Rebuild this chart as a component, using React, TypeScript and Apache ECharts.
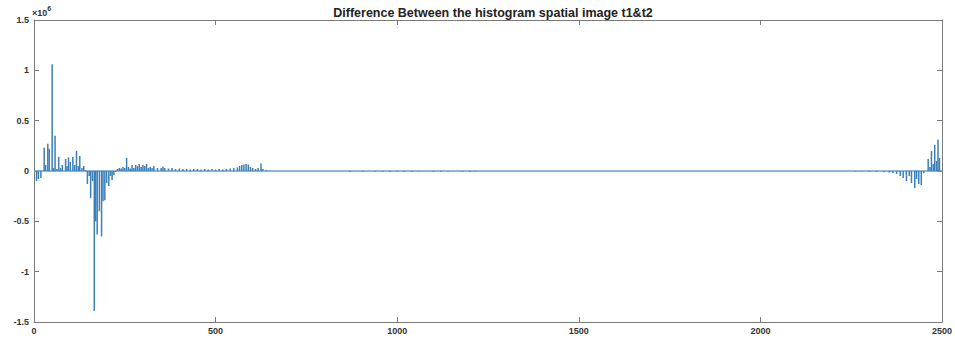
import React, { useEffect, useRef } from "react";
import * as echarts from "echarts";

// bin positions and histogram difference values (in units of 1e6)
const binsLeft = [7, 12, 19, 28, 32, 38, 42, 50, 54, 58, 63, 68, 73, 78, 87, 91, 95, 100, 107, 112, 117, 122, 126, 132, 137, 142,
  147, 152, 156, 161, 166, 170, 174, 180, 186, 190, 195, 200, 206, 211, 215, 220, 225,
  230, 235, 240, 245, 250, 255, 260, 265, 270, 275, 280, 285, 290, 295, 300, 305, 310, 315, 320, 325, 330, 340, 350, 355, 360, 370, 380,
  390, 400, 410, 420, 430, 440, 450, 460, 470, 480, 490, 500, 510, 520, 530, 540, 550, 560, 566, 572, 578, 584, 590, 596, 602, 610, 617, 625, 630, 640, 650];
const valuesLeft = [-0.1, -0.08, -0.07, 0.23, 0.06, 0.27, 0.22, 1.06, 0.03, 0.35, 0.02, 0.14, 0.03, 0.06, 0.12, 0.05, 0.135, 0.09, 0.14, 0.06, 0.2, 0.05, 0.15, 0.03, 0.05, 0.01,
  -0.13, -0.05, -0.27, -0.1, -1.39, -0.5, -0.63, -0.4, -0.65, -0.3, -0.29, -0.12, -0.15, -0.05, -0.09, -0.04, -0.01,
  0.02, 0.03, 0.025, 0.04, 0.03, 0.13, 0.04, 0.025, 0.06, 0.03, 0.06, 0.05, 0.07, 0.04, 0.06, 0.05, 0.07, 0.03, 0.04, 0.03, 0.05, 0.03, 0.03, 0.045, 0.03, 0.025, 0.03,
  0.02, 0.025, 0.02, 0.02, 0.015, 0.02, 0.02, 0.015, 0.02, 0.015, 0.02, 0.015, 0.02, 0.015, 0.02, 0.025, 0.03, 0.035, 0.05, 0.06, 0.065, 0.07, 0.065, 0.04, 0.03, 0.02, 0.03, 0.075, 0.02, 0.01, 0.005];

const binsMiddle = [870, 905, 940, 960, 980, 1000, 1020, 1040, 1060, 1100, 1120, 1140, 1180, 1200, 1215];
const valuesMiddle = [-0.01, -0.008, -0.008, -0.008, -0.01, -0.008, -0.01, -0.008, -0.006, -0.01, -0.008, -0.006, -0.008, -0.008, -0.006];

const binsRight = [2262, 2280, 2300, 2320, 2340, 2355, 2365, 2375, 2385, 2393, 2402, 2410, 2416, 2425, 2430, 2436, 2443, 2450,
  2462, 2467, 2471, 2476, 2480, 2485, 2489, 2493];
const valuesRight = [-0.005, -0.006, -0.008, -0.01, -0.012, -0.015, -0.02, -0.03, -0.05, -0.07, -0.1, -0.05, -0.12, -0.17, -0.08, -0.13, -0.14, -0.02,
  0.12, 0.04, 0.2, 0.07, 0.26, 0.1, 0.31, 0.13];

const xTicks = [0, 500, 1000, 1500, 2000, 2500];
const yTicks = [-1.5, -1, -0.5, 0, 0.5, 1, 1.5];

const titleText = "Difference Between the histogram spatial image t1&t2";

export default function App() {
  const ref = useRef<HTMLDivElement>(null);
  useEffect(() => {
    if (!ref.current) return;
    const chart = echarts.init(ref.current, undefined, { renderer: "svg" });
    const bins = [...binsLeft, ...binsMiddle, ...binsRight];
    const vals = [...valuesLeft, ...valuesMiddle, ...valuesRight];
    const barData = bins.map((b, i) => [b, vals[i]]);
    const axisColor = "#7a7a7a";
    const font = "Liberation Sans, Arial, sans-serif";
    const labelStyle = { color: "#333", fontSize: 9, fontWeight: "bold" as const, fontFamily: font };
    chart.setOption({
      animation: false,
      title: {
        text: titleText,
        left: 488,
        textAlign: "center",
        top: 1,
        textStyle: { fontSize: 12.5, fontWeight: "bold", color: "#222", fontFamily: font },
      },
      grid: { left: 34, right: 12, top: 20, bottom: 16 },
      xAxis: [
        {
          type: "value",
          min: xTicks[0],
          max: xTicks[xTicks.length - 1],
          interval: 500,
          position: "bottom",
          axisLine: { show: true, onZero: false, lineStyle: { color: axisColor, width: 1 } },
          axisTick: { show: true, inside: true, length: 5, lineStyle: { color: axisColor } },
          axisLabel: { ...labelStyle, margin: 4, formatter: (v: number) => String(v) },
          splitLine: { show: false },
        },
        {
          type: "value",
          min: xTicks[0],
          max: xTicks[xTicks.length - 1],
          interval: 500,
          position: "top",
          axisLine: { show: true, onZero: false, lineStyle: { color: axisColor, width: 1 } },
          axisTick: { show: true, inside: true, length: 5, lineStyle: { color: axisColor } },
          axisLabel: { show: false },
          splitLine: { show: false },
        },
      ],
      yAxis: [
        {
          type: "value",
          min: yTicks[0],
          max: yTicks[yTicks.length - 1],
          interval: 0.5,
          position: "left",
          axisLine: { show: true, onZero: false, lineStyle: { color: axisColor, width: 1 } },
          axisTick: { show: true, inside: true, length: 5, lineStyle: { color: axisColor } },
          axisLabel: { ...labelStyle, margin: 5, formatter: (v: number) => String(v) },
          splitLine: { show: false },
        },
        {
          type: "value",
          min: yTicks[0],
          max: yTicks[yTicks.length - 1],
          interval: 0.5,
          position: "right",
          axisLine: { show: true, onZero: false, lineStyle: { color: axisColor, width: 1 } },
          axisTick: { show: true, inside: true, length: 5, lineStyle: { color: axisColor } },
          axisLabel: { show: false },
          splitLine: { show: false },
        },
      ],
      graphic: [
        {
          type: "text",
          left: 32,
          top: 5,
          style: {
            text: "{a|×10}{b|6}",
            rich: {
              a: { fontSize: 9, fontWeight: "bold", fill: "#333", fontFamily: font, verticalAlign: "bottom" },
              b: { fontSize: 7, fontWeight: "bold", fill: "#333", fontFamily: font, verticalAlign: "top", padding: [0, 0, 5, 0] },
            },
          },
        },
      ],
      series: [
        {
          type: "line",
          data: [[xTicks[0], 0], [xTicks[xTicks.length - 1], 0]],
          symbol: "none",
          lineStyle: { color: "#6a9fca", width: 1.5 },
          silent: true,
          z: 1,
        },
        {
          type: "bar",
          data: barData,
          barWidth: 1.5,
          itemStyle: { color: "#3b7fb8" },
          z: 2,
        },
      ],
    });
    return () => chart.dispose();
  }, []);
  return <div ref={ref} style={{ position: "fixed", left: 0, top: 0, width: 955, height: 338, background: "#fff" }} />;
}
